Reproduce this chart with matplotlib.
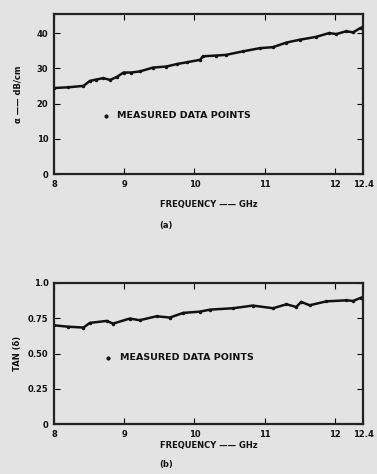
import matplotlib
matplotlib.use("Agg")
import matplotlib.pyplot as plt

# (a) attenuation, dB/cm vs frequency, GHz
freq_a = [8.0, 8.2, 8.42, 8.51, 8.6, 8.7, 8.8, 8.9, 8.99, 9.1, 9.22, 9.41, 9.6, 9.75,
          9.89, 10.08, 10.12, 10.3, 10.45, 10.69, 10.93, 11.12, 11.31, 11.5, 11.73,
          11.92, 12.02, 12.16, 12.26, 12.37, 12.4]
alpha = [24.4, 24.6, 25.0, 26.4, 26.8, 27.2, 26.7, 27.6, 28.8, 28.8, 29.1, 30.2, 30.5, 31.2,
         31.7, 32.4, 33.4, 33.6, 33.8, 34.8, 35.7, 36.0, 37.3, 38.1, 38.9,
         40.0, 39.7, 40.5, 40.2, 41.5, 41.7]

# (b) loss tangent vs frequency
freq_b = [8.0, 8.2, 8.42, 8.51, 8.75, 8.84, 9.08, 9.22, 9.46, 9.65, 9.84, 10.08, 10.22,
          10.55, 10.83, 11.12, 11.31, 11.45, 11.52, 11.64, 11.88, 12.16, 12.26, 12.37, 12.4]
tan_d = [0.70, 0.69, 0.684, 0.717, 0.731, 0.712, 0.748, 0.736, 0.764, 0.755, 0.788, 0.797, 0.811,
         0.821, 0.84, 0.821, 0.849, 0.83, 0.866, 0.842, 0.87, 0.877, 0.873, 0.895, 0.90]

xticks = [8, 9, 10, 11, 12, 12.4]
xticklabels = ["8", "9", "10", "11", "12", "12.4"]
bg = "#e3e3e3"

fig = plt.figure(figsize=(3.77, 4.74), dpi=100, facecolor=bg)
ax1 = fig.add_axes([54 / 377, 1 - 174 / 474, 309 / 377, 160 / 474])
ax2 = fig.add_axes([54 / 377, 1 - 424 / 474, 309 / 377, 141 / 474])

font = dict(fontsize=6, fontweight="bold", color="#111111")

def style(ax, yticks, ylabels, ylim, xpad):
    ax.set_facecolor(bg)
    ax.set_xlim(8, 12.4)
    ax.set_ylim(*ylim)
    ax.set_xticks(xticks)
    ax.set_xticklabels(xticklabels, **font)
    ax.set_yticks(yticks)
    ax.set_yticklabels(ylabels, **font)
    ax.tick_params(direction="in", length=4, width=0.8, top=True, right=True, pad=4)
    for s in ax.spines.values():
        s.set_linewidth(1.6)
        s.set_color("#222222")
    ax.set_xlabel("FREQUENCY —— GHz", labelpad=xpad, **font)

style(ax1, [0, 10, 20, 30, 40], ["0", "10", "20", "30", "40"], (0, 45.4), 8)
ax1.plot(freq_a, alpha, color="#111111", lw=1.8, marker="o", ms=1.5)
ax1.set_ylabel("α —— dB/cm", labelpad=10, **font)
ax1.plot([8.74], [16.5], "o", color="#111111", ms=2)
ax1.text(8.9, 16.5, "MEASURED DATA POINTS", va="center", fontsize=6.8, fontweight="bold", color="#111111")
fig.text(166 / 377, 1 - 226 / 474, "(a)", ha="center", va="center", **font)

style(ax2, [0, 0.25, 0.5, 0.75, 1.0], ["0", "0.25", "0.50", "0.75", "1.0"], (0, 1.0), 2)
ax2.plot(freq_b, tan_d, color="#111111", lw=1.8, marker="o", ms=1.5)
ax2.set_ylabel("TAN (δ)", labelpad=4, **font)
ax2.plot([8.77], [0.47], "o", color="#111111", ms=2)
ax2.text(8.94, 0.47, "MEASURED DATA POINTS", va="center", fontsize=6.8, fontweight="bold", color="#111111")
fig.text(166 / 377, 1 - 465 / 474, "(b)", ha="center", va="center", **font)

fig.savefig("out.png", dpi=100, facecolor=bg)
